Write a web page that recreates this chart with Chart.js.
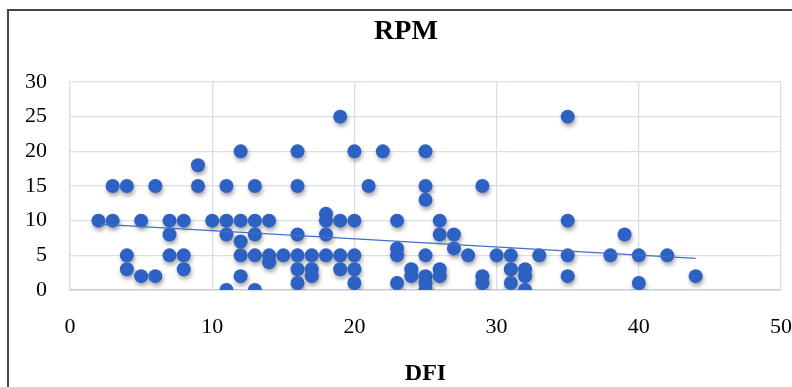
<!DOCTYPE html>
<html>
<head>
<meta charset="utf-8">
<script src="https://cdn.jsdelivr.net/npm/chart.js@4.4.1/dist/chart.umd.min.js"></script>
<style>
  html, body { margin: 0; padding: 0; background: #ffffff; }
  #wrap { width: 792px; height: 387px; position: relative; }
</style>
</head>
<body>
<div id="wrap"><canvas id="c" width="792" height="387"></canvas></div>
<script>
const chartTitle = 'RPM';
const xTitle = 'DFI';
const xTicks = [0, 10, 20, 30, 40, 50];
const yTicks = [0, 5, 10, 15, 20, 25, 30];

const dfi = [2, 3,3, 4,4,4, 5,5, 6,6, 7,7,7, 8,8,8, 9,9, 10, 11,11,11,11, 12,12,12,12,12,
  13,13,13,13,13, 14,14,14, 15, 16,16,16,16,16,16, 17,17,17, 18,18,18,18, 19,19,19,19,
  20,20,20,20,20, 21, 22, 23,23,23,23, 24,24, 25,25,25,25,25,25,25, 26,26,26,26, 27,27, 28,
  29,29,29, 30, 31,31,31, 32,32,32, 33, 35,35,35,35, 38, 39, 40,40, 42, 44];
const rpm = [10, 10,15, 15,5,3, 10,2, 15,2, 10,8,5, 10,5,3, 18,15, 10, 15,10,8,0, 20,10,7,5,2,
  15,10,8,5,0, 10,5,4, 5, 20,15,8,5,3,1, 5,3,2, 11,10,8,5, 25,10,5,3,
  20,10,5,3,1, 15, 20, 10,6,5,1, 3,2, 20,15,13,5,2,1,0, 10,8,3,2, 8,6, 5,
  15,2,1, 5, 5,3,1, 3,2,0, 5, 25,10,5,2, 5, 8, 5,1, 5, 2];

const points = dfi.map((x, i) => ({ x: x, y: rpm[i] }));

// least-squares trendline over the data range (as Excel's linear trendline)
const n = dfi.length;
const mx = dfi.reduce((a, b) => a + b, 0) / n;
const my = rpm.reduce((a, b) => a + b, 0) / n;
let sxy = 0, sxx = 0;
for (let i = 0; i < n; i++) { sxy += (dfi[i] - mx) * (rpm[i] - my); sxx += (dfi[i] - mx) ** 2; }
const slope = sxy / sxx, icpt = my - slope * mx;
const xMin = Math.min(...dfi), xMax = Math.max(...dfi);
const trend = [{ x: xMin, y: icpt + slope * xMin }, { x: xMax, y: icpt + slope * xMax }];

const serif = '"Liberation Serif", "Times New Roman", serif';
const gridColor = '#D9DEE8';

const framePlugin = {
  id: 'frame',
  beforeDraw(chart) {
    const ctx = chart.ctx;
    ctx.save();
    ctx.fillStyle = '#ffffff';
    ctx.fillRect(0, 0, chart.width, chart.height);
    ctx.strokeStyle = '#454545';
    ctx.lineWidth = 2;
    ctx.strokeRect(8, 10, chart.width + 20, chart.height + 20);
    ctx.restore();
  },
  afterDraw(chart) {
    const ctx = chart.ctx;
    ctx.save();
    ctx.fillStyle = '#000000';
    ctx.font = 'bold 28px ' + serif;
    ctx.textAlign = 'center';
    ctx.textBaseline = 'middle';
    ctx.fillText(chartTitle, 406, 32);
    ctx.restore();
  }
};

const shadowPlugin = {
  id: 'markerShadow',
  beforeDatasetDraw(chart, args) {
    if (args.index !== 0) return;
    const ctx = chart.ctx;
    ctx.save();
    ctx.shadowColor = 'rgba(0,0,0,0.35)';
    ctx.shadowBlur = 4;
    ctx.shadowOffsetX = 1;
    ctx.shadowOffsetY = 3;
  },
  afterDatasetDraw(chart, args) {
    if (args.index !== 0) return;
    chart.ctx.restore();
  }
};

new Chart(document.getElementById('c'), {
  type: 'scatter',
  data: {
    datasets: [
      {
        label: chartTitle,
        data: points,
        backgroundColor: '#2D62C4',
        borderColor: '#2D62C4',
        borderWidth: 0,
        pointRadius: 7,
        pointHoverRadius: 7,
        order: 1
      },
      {
        type: 'line',
        label: 'trend',
        data: trend,
        borderColor: '#3F6FC6',
        borderWidth: 1.2,
        pointRadius: 0,
        fill: false,
        order: 0
      }
    ]
  },
  plugins: [framePlugin, shadowPlugin],
  options: {
    responsive: false,
    animation: false,
    devicePixelRatio: 1,
    layout: { padding: { left: 0, right: 11, top: 82, bottom: 0 } },
    plugins: {
      legend: { display: false },
      tooltip: { enabled: false },
      title: { display: false }
    },
    scales: {
      x: {
        type: 'linear',
        min: 0, max: 50,
        afterBuildTicks(scale) { scale.ticks = xTicks.map(v => ({ value: v })); },
        afterFit(scale) { scale.height = 97; scale.paddingLeft = 0; scale.paddingRight = 0; },
        ticks: {
          color: '#000000',
          font: { family: serif, size: 22 },
          padding: 24,
          maxRotation: 0
        },
        grid: { color: gridColor, lineWidth: 1.3, drawTicks: false },
        border: { color: '#C8CFDB', width: 1.5 },
        title: {
          display: true,
          text: xTitle,
          color: '#000000',
          font: { family: serif, size: 24, weight: 'bold', lineHeight: 1 },
          padding: { top: 0, bottom: 1 }
        }
      },
      y: {
        type: 'linear',
        min: 0, max: 30,
        afterBuildTicks(scale) { scale.ticks = yTicks.map(v => ({ value: v })); },
        afterFit(scale) { scale.width = 70; scale.paddingTop = 0; scale.paddingBottom = 0; },
        ticks: {
          color: '#000000',
          font: { family: serif, size: 22 },
          padding: 23
        },
        grid: { color: gridColor, lineWidth: 1.3, drawTicks: false },
        border: { color: gridColor, width: 1.3 }
      }
    }
  }
});
</script>
</body>
</html>
